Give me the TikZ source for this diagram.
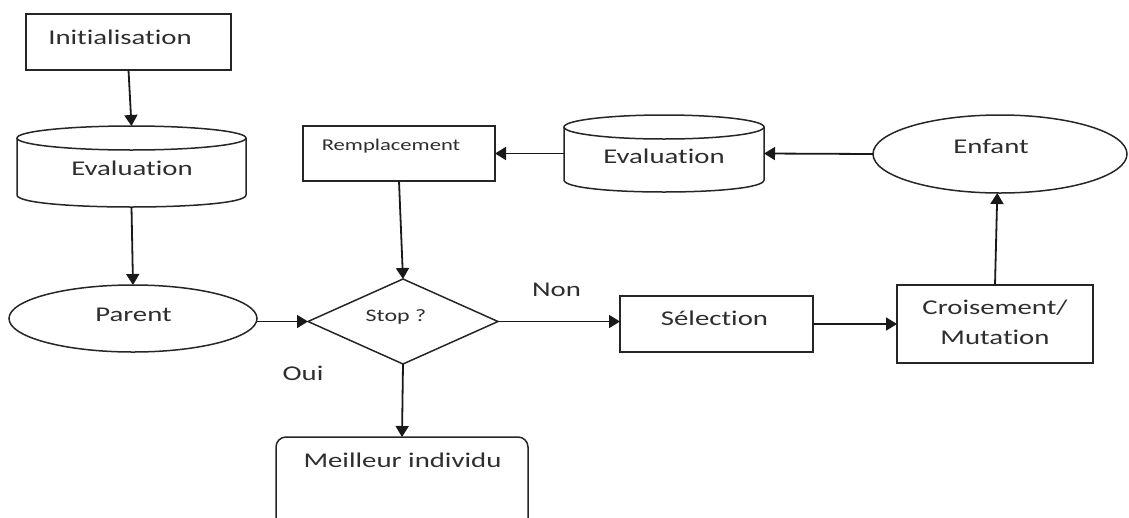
\documentclass[tikz,border=0pt]{standalone}
\usepackage{fontspec}
\setmainfont{Carlito}[FakeStretch=1.37, Ligatures={NoCommon,NoContextual}, Contextuals=NoAlternate]
\usetikzlibrary{arrows.meta,shapes.geometric}

% outline of a vertical cylinder: left x, right x, top-ellipse y, bottom-ellipse y, y radius
\newcommand\cylinderoutline[5]{%
  \draw[frame] (#1,#3) -- (#1,#4)
    .. controls (#1,{#4+1.3333*#5}) and (#2,{#4+1.3333*#5}) .. (#2,#4) -- (#2,#3);
  \draw[frame] ({(#1+#2)/2},#3) ellipse [x radius={(#2-#1)/2}, y radius=#5];
}

\begin{document}
\begin{tikzpicture}[x=1pt,y=-1pt,
  frame/.style={draw=black!85, line width=1.5pt},
  shapebox/.style={frame, inner sep=0pt, outer sep=0pt},
  rectbox/.style={shapebox, rectangle},
  ovalbox/.style={shapebox, ellipse},
  ghost/.style={rectangle, draw=none, inner sep=0pt, outer sep=0pt},
  lbl/.style={anchor=base, inner sep=0pt, text=black!82,
              font=\fontsize{21}{29}\selectfont},
  smalllbl/.style={lbl, font=\fontsize{16.5}{20}\selectfont},
  flow/.style={draw=black!90, line width=1.8pt,
               -{Triangle[length=11pt,width=13pt]}}]

\useasboundingbox (0,0) rectangle (1129,517);
\clip (0,0) rectangle (1129,517);

% ---- shapes ----
\node[rectbox, minimum width=205pt, minimum height=56pt] (init) at (128.5,42) {};
\node[ghost, minimum width=229pt, minimum height=81pt] (eval1) at (131.5,166.5) {};
\cylinderoutline{17}{246}{138}{195}{12}
\node[ovalbox, minimum width=248pt, minimum height=67pt] (parent) at (133,318.5) {};
\node[shapebox, diamond, minimum width=190pt, minimum height=85pt] (stop) at (403,321.5) {};
\node[shapebox, rectangle, rounded corners=10pt,
      minimum width=252pt, minimum height=126pt] (best) at (402,500) {};
\node[rectbox, minimum width=192pt, minimum height=55pt] (repl) at (399,153.5) {};
\node[ghost, minimum width=200pt, minimum height=77pt] (eval2) at (664,153.5) {};
\cylinderoutline{564}{764}{127}{180}{12}
\node[ovalbox, minimum width=254pt, minimum height=78pt] (child) at (1000,154) {};
\node[rectbox, minimum width=193pt, minimum height=56pt] (select) at (716.5,324) {};
\node[rectbox, minimum width=196pt, minimum height=78pt] (cross) at (995,324) {};

% ---- texts ----
\node[lbl] (tinit) at (120,44) {Initialisation};
\node[lbl] (teval1) at (132,175.5) {Evaluation};
\node[lbl] (tparent) at (133.5,321) {Parent};
\node[smalllbl, font=\fontsize{17.5}{20}\selectfont] (tstop) at (396,321.5) {Stop ?};
\node[lbl] (tyes) at (303,380) {Oui};
\node[lbl] (tno) at (556.5,296) {Non};
\node[lbl] (tbest) at (402.5,467.5) {Meilleur individu};
\node[smalllbl] (trepl) at (391,150.5) {Remplacement};
\node[lbl] (teval2) at (664,163.5) {Evaluation};
\node[lbl] (tchild) at (991,153.5) {Enfant};
\node[lbl] (tselect) at (714.5,325) {Sélection};
\node[lbl] (tcross1) at (995,314.5) {Croisement/};
\node[lbl] (tcross2) at (995,344) {Mutation};

% ---- connectors ----
\draw[flow] (init.south) -- (eval1.north);
\draw[flow] (eval1.south) -- (parent.north);
\draw[flow] (parent.east |- stop.west) -- (stop.west);
\draw[flow] (repl.south) -- (stop.north);
\draw[flow] (stop.south) -- (best.north);
\draw[flow] (stop.east) -- (stop.east -| select.west);
\draw[flow] (select.east) -- (cross.west);
\draw[flow] (cross.north) -- (child.266);
\draw[flow] (child.west) -- (eval2.east);
\draw[flow] (eval2.west) -- (repl.east);
\end{tikzpicture}
\end{document}
